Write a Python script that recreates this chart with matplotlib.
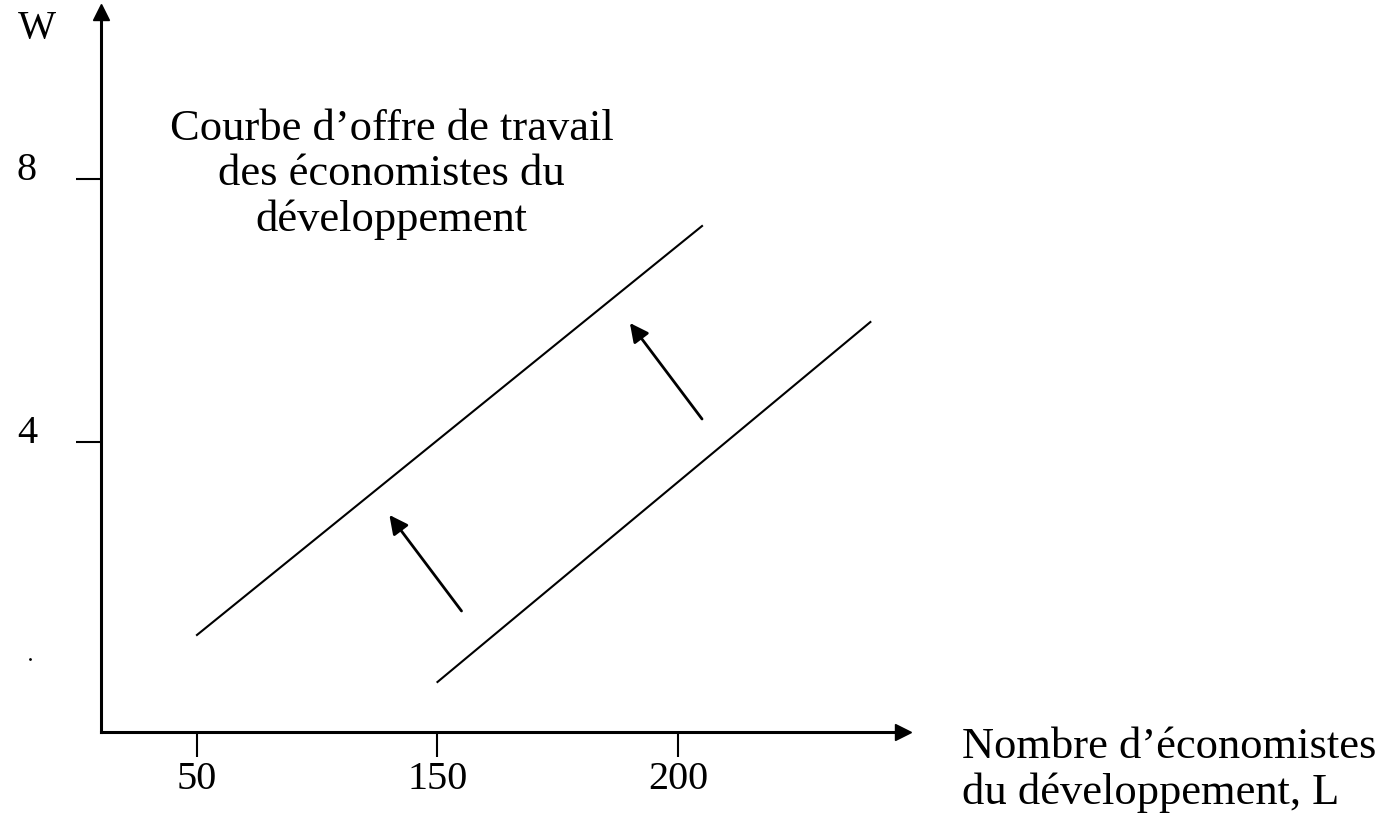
import matplotlib.pyplot as plt

# x ticks are placed at evenly spaced positions, labelled with the L values
x_pos = [1, 2, 3]
x_labels = ["50", "150", "200"]
y_ticks = [4, 8]

# supply curves (start, end) in axis units
curve_old_x = [2.0, 3.80]
curve_old_y = [0.35, 5.825]
curve_new_x = [1.0, 3.10]
curve_new_y = [1.065, 7.285]

# shift arrows: (tail x, tail y, head x, head y)
shift_arrows = [
    (2.10, 1.43, 1.80, 2.89),
    (3.10, 4.35, 2.80, 5.81),
]

plt.rcParams["font.family"] = ["Liberation Serif", "DejaVu Serif"]

fig = plt.figure(figsize=(13.87, 8.2), dpi=100)
ax = fig.add_axes([101 / 1387, 87 / 820, 802 / 1387, 720 / 820])
ax.set_xlim(0.601, 3.9356)
ax.set_ylim(-0.4106, 10.54)

for side in ["top", "right"]:
    ax.spines[side].set_visible(False)
for side in ["left", "bottom"]:
    ax.spines[side].set_linewidth(2.2)

# arrow heads at the ends of the axes
ax.plot(1, 0, ">k", ms=12, transform=ax.transAxes, clip_on=False)
ax.plot(0, 1, "^k", ms=12, transform=ax.transAxes, clip_on=False)

ax.set_xticks(x_pos, x_labels, fontsize=29)
ax.set_yticks(y_ticks, [str(v) for v in y_ticks], fontsize=29)
ax.tick_params(axis="x", direction="out", length=18, width=1.5, pad=2)
ax.tick_params(axis="y", direction="out", length=18, width=1.5, pad=28)
for lab in ax.get_yticklabels():
    lab.set_va("baseline")

ax.plot(curve_new_x, curve_new_y, color="black", lw=1.5)
ax.plot(curve_old_x, curve_old_y, color="black", lw=1.5)

for x0, y0, x1, y1 in shift_arrows:
    ax.annotate("", xy=(x1, y1), xytext=(x0, y0),
                arrowprops=dict(arrowstyle="-|>", color="black", lw=2,
                                mutation_scale=28, shrinkA=0, shrinkB=0))

ax.text(1.81, 8.08, "Courbe d’offre de travail\ndes économistes du\ndéveloppement",
        ha="center", va="center", fontsize=32, linespacing=1.17)

ax.text(4.18, -0.97, "Nombre d’économistes\ndu développement, L",
        ha="left", va="center", fontsize=32, linespacing=1.17, clip_on=False)
ax.text(0.335, 10.3, "W", ha="center", va="center", fontsize=29, clip_on=False)
ax.plot(0.306, 0.70, "k.", ms=2, clip_on=False)

fig.savefig("out.png", dpi=100)
